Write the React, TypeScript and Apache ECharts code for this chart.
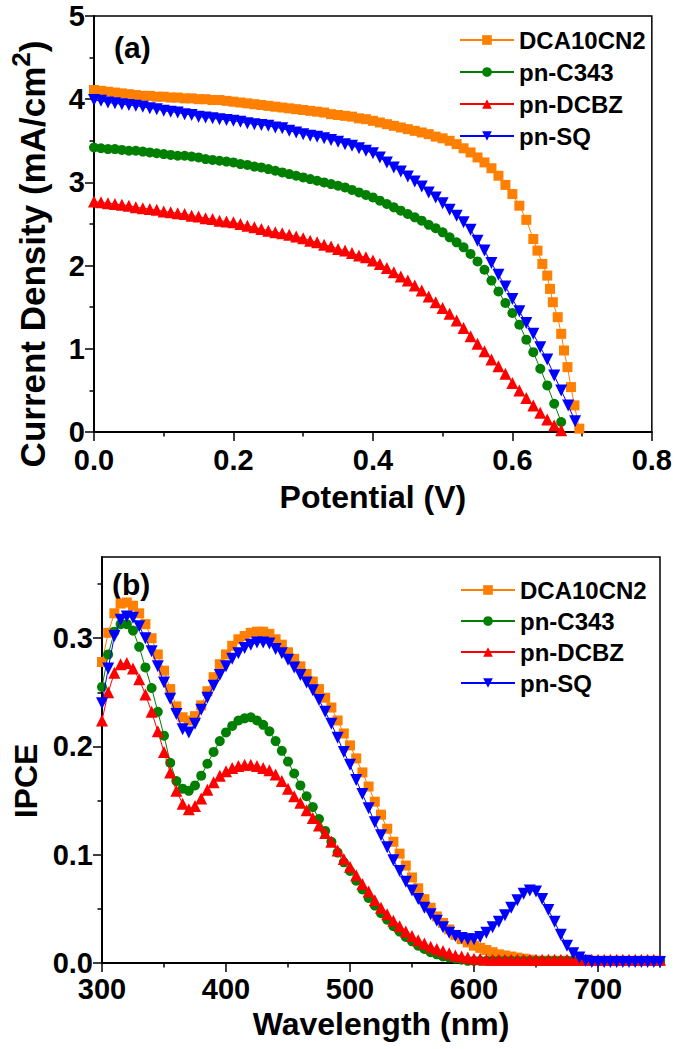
import React, { useEffect, useRef } from 'react';
import * as echarts from 'echarts';

const FONT = "'Liberation Sans', Arial, Helvetica, sans-serif";

const seriesNames = ['DCA10CN2', 'pn-C343', 'pn-DCBZ', 'pn-SQ'];
const seriesColors = ['#FF7F00', '#007F00', '#FF0000', '#0000FF'];
const seriesSymbols = ['rect', 'circle', 'triangle', 'triangle'];
const seriesRotate = [0, 0, 0, 180];
const seriesSymbolSize = [10, 10, 12, 12];

// ---- (a) J-V curves ----
const potential = [
  0.00, 0.01, 0.02, 0.03, 0.04, 0.05, 0.06, 0.07, 0.08, 0.09,
  0.10, 0.11, 0.12, 0.13, 0.14, 0.15, 0.16, 0.17, 0.18, 0.19,
  0.20, 0.21, 0.22, 0.23, 0.24, 0.25, 0.26, 0.27, 0.28, 0.29,
  0.30, 0.31, 0.32, 0.33, 0.34, 0.35, 0.36, 0.37, 0.38, 0.39,
  0.40, 0.41, 0.42, 0.43, 0.44, 0.45, 0.46, 0.47, 0.48, 0.49,
  0.50, 0.51, 0.52, 0.53, 0.54, 0.55, 0.56, 0.57, 0.58, 0.59,
  0.60, 0.61, 0.62, 0.63, 0.64, 0.65, 0.66, 0.67, 0.68, 0.69,
];

const dcaCurrent = [
  4.11, 4.10, 4.09, 4.08, 4.07, 4.06, 4.05, 4.04, 4.04, 4.03,
  4.03, 4.02, 4.02, 4.01, 4.01, 4.00, 4.00, 3.99, 3.99, 3.98,
  3.97, 3.96, 3.95, 3.94, 3.93, 3.92, 3.91, 3.90, 3.89, 3.88,
  3.87, 3.86, 3.85, 3.84, 3.82, 3.81, 3.80, 3.79, 3.77, 3.76,
  3.74, 3.72, 3.70, 3.68, 3.66, 3.64, 3.62, 3.60, 3.58, 3.55,
  3.53, 3.50, 3.46, 3.41, 3.36, 3.30, 3.24, 3.17, 3.08, 2.97,
  2.86, 2.72, 2.55, 2.32,
];
const dcaTailPotential = [0.636, 0.643, 0.650, 0.654, 0.658, 0.665, 0.670, 0.674, 0.679, 0.684, 0.689, 0.696];
const dcaTailCurrent = [2.18, 2.02, 1.88, 1.72, 1.56, 1.38, 1.18, 0.98, 0.78, 0.54, 0.32, 0.04];

const c343Current = [
  3.42, 3.41, 3.40, 3.40, 3.39, 3.38, 3.38, 3.37, 3.36, 3.35,
  3.34, 3.33, 3.32, 3.32, 3.31, 3.30, 3.28, 3.27, 3.26, 3.25,
  3.24, 3.22, 3.21, 3.19, 3.18, 3.16, 3.14, 3.12, 3.10, 3.08,
  3.06, 3.04, 3.02, 3.00, 2.98, 2.96, 2.94, 2.91, 2.88, 2.85,
  2.82, 2.78, 2.74, 2.70, 2.66, 2.62, 2.58, 2.54, 2.49, 2.45,
  2.40, 2.34, 2.28, 2.22, 2.14, 2.05, 1.95, 1.82, 1.69, 1.55,
  1.43, 1.29, 1.11, 0.96, 0.76, 0.56, 0.34, 0.12,
];

const dcbzCurrent = [
  2.77, 2.76, 2.75, 2.74, 2.73, 2.72, 2.70, 2.69, 2.68, 2.67,
  2.65, 2.64, 2.63, 2.62, 2.60, 2.59, 2.57, 2.56, 2.54, 2.53,
  2.52, 2.50, 2.48, 2.46, 2.44, 2.42, 2.40, 2.39, 2.37, 2.35,
  2.33, 2.30, 2.28, 2.25, 2.23, 2.20, 2.18, 2.15, 2.12, 2.10,
  2.06, 2.02, 1.97, 1.92, 1.87, 1.82, 1.76, 1.70, 1.63, 1.56,
  1.49, 1.42, 1.34, 1.25, 1.15, 1.06, 0.97, 0.87, 0.79, 0.70,
  0.59, 0.50, 0.41, 0.32, 0.23, 0.15, 0.08, 0.02,
];

const sqCurrent = [
  3.99, 3.98, 3.96, 3.95, 3.94, 3.93, 3.92, 3.91, 3.89, 3.88,
  3.86, 3.85, 3.84, 3.82, 3.81, 3.79, 3.78, 3.77, 3.76, 3.75,
  3.74, 3.73, 3.71, 3.70, 3.69, 3.68, 3.66, 3.65, 3.62, 3.60,
  3.58, 3.56, 3.55, 3.53, 3.51, 3.49, 3.46, 3.44, 3.41, 3.38,
  3.35, 3.30, 3.24, 3.18, 3.13, 3.07, 3.01, 2.95, 2.88, 2.82,
  2.75, 2.67, 2.60, 2.52, 2.43, 2.30, 2.18, 2.03, 1.89, 1.75,
  1.60, 1.45, 1.31, 1.18, 1.02, 0.87, 0.68, 0.50, 0.32, 0.13,
];

// ---- (b) IPCE spectra ----
const wavelength = [
  300, 305, 310, 315, 320, 325, 330, 335, 340, 345,
  350, 355, 360, 365, 370, 375, 380, 385, 390, 395,
  400, 405, 410, 415, 420, 425, 430, 435, 440, 445,
  450, 455, 460, 465, 470, 475, 480, 485, 490, 495,
  500, 505, 510, 515, 520, 525, 530, 535, 540, 545,
  550, 555, 560, 565, 570, 575, 580, 585, 590, 595,
  600, 605, 610, 615, 620, 625, 630, 635, 640, 645,
  650, 655, 660, 665, 670, 675, 680, 685, 690, 695,
  700, 705, 710, 715, 720, 725, 730, 735, 740, 745, 750,
];

const dcaIpce = [
  0.278, 0.305, 0.323, 0.332, 0.333, 0.330, 0.323, 0.313, 0.300, 0.285,
  0.270, 0.253, 0.237, 0.227, 0.224, 0.228, 0.238, 0.251, 0.264, 0.276,
  0.285, 0.293, 0.299, 0.302, 0.305, 0.306, 0.306, 0.304, 0.299, 0.294,
  0.287, 0.281, 0.274, 0.267, 0.260, 0.253, 0.245, 0.236, 0.224, 0.212,
  0.201, 0.189, 0.176, 0.163, 0.149, 0.137, 0.124, 0.112, 0.101, 0.090,
  0.079, 0.069, 0.059, 0.051, 0.043, 0.037, 0.031, 0.026, 0.022, 0.019,
  0.016, 0.014, 0.012, 0.010, 0.008, 0.007, 0.006, 0.005, 0.004, 0.003,
  0.002, 0.002, 0.002, 0.002, 0.002, 0.002, 0.002, 0.002, 0.002, 0.002,
  0.002, 0.002, 0.002, 0.002, 0.002, 0.002, 0.002, 0.002, 0.002, 0.002, 0.002,
];

const c343Ipce = [
  0.255, 0.285, 0.306, 0.313, 0.313, 0.307, 0.292, 0.273, 0.254, 0.232,
  0.210, 0.185, 0.168, 0.161, 0.159, 0.164, 0.173, 0.184, 0.195, 0.205,
  0.213, 0.219, 0.224, 0.226, 0.227, 0.224, 0.220, 0.214, 0.205, 0.196,
  0.186, 0.175, 0.164, 0.154, 0.144, 0.133, 0.122, 0.112, 0.102, 0.093,
  0.085, 0.076, 0.068, 0.060, 0.053, 0.046, 0.040, 0.034, 0.029, 0.024,
  0.020, 0.016, 0.013, 0.010, 0.008, 0.006, 0.005, 0.004, 0.003, 0.002,
  0.002, 0.002, 0.002, 0.002, 0.002, 0.002, 0.002, 0.002, 0.002, 0.002,
  0.002, 0.002, 0.002, 0.002, 0.002, 0.002, 0.002, 0.002, 0.002, 0.002,
  0.002, 0.002, 0.002, 0.002, 0.002, 0.002, 0.002, 0.002, 0.002, 0.002, 0.002,
];

const dcbzIpce = [
  0.224, 0.250, 0.268, 0.276, 0.277, 0.272, 0.262, 0.248, 0.232, 0.214,
  0.195, 0.176, 0.159, 0.147, 0.142, 0.145, 0.152, 0.160, 0.167, 0.173,
  0.177, 0.180, 0.182, 0.183, 0.183, 0.182, 0.180, 0.178, 0.174, 0.168,
  0.161, 0.154, 0.148, 0.141, 0.134, 0.127, 0.120, 0.112, 0.104, 0.096,
  0.089, 0.081, 0.073, 0.066, 0.058, 0.051, 0.045, 0.039, 0.034, 0.029,
  0.025, 0.021, 0.018, 0.015, 0.013, 0.011, 0.009, 0.007, 0.006, 0.005,
  0.004, 0.004, 0.003, 0.003, 0.003, 0.003, 0.003, 0.003, 0.003, 0.003,
  0.003, 0.003, 0.003, 0.003, 0.003, 0.003, 0.003, 0.003, 0.003, 0.003,
  0.003, 0.003, 0.003, 0.003, 0.003, 0.003, 0.003, 0.003, 0.003, 0.003, 0.003,
];

const sqIpce = [
  0.240, 0.272, 0.302, 0.317, 0.320, 0.319, 0.311, 0.300, 0.288, 0.274,
  0.259, 0.244, 0.230, 0.216, 0.213, 0.221, 0.234, 0.245, 0.256, 0.266,
  0.274, 0.281, 0.286, 0.291, 0.294, 0.296, 0.296, 0.295, 0.290, 0.286,
  0.280, 0.273, 0.266, 0.259, 0.252, 0.243, 0.232, 0.221, 0.208, 0.195,
  0.183, 0.169, 0.156, 0.143, 0.130, 0.118, 0.107, 0.095, 0.085, 0.075,
  0.067, 0.059, 0.051, 0.045, 0.039, 0.033, 0.028, 0.025, 0.023, 0.022,
  0.022, 0.024, 0.028, 0.033, 0.038, 0.044, 0.051, 0.058, 0.064, 0.067,
  0.066, 0.059, 0.049, 0.038, 0.026, 0.016, 0.009, 0.005, 0.002, 0.001,
  0.001, 0.001, 0.001, 0.001, 0.001, 0.001, 0.001, 0.001, 0.001, 0.001, 0.001,
];

const jvTicksY = [0, 1, 2, 3, 4, 5];
const ipceMajorY = [0, 0.1, 0.2, 0.3];
const ipceMinorY = [0.05, 0.15, 0.25, 0.35];
const ipceMajorX = [300, 400, 500, 600, 700];
const ipceMinorX = [350, 450, 550, 650, 750];

const zip = (xs: number[], ys: number[]) => ys.map((y, i) => [xs[i], y]);

export default function App() {
  const ref = useRef<HTMLDivElement>(null);

  useEffect(() => {
    document.body.style.margin = '0';
    if (!ref.current) return;
    const chart = echarts.init(ref.current, undefined, { renderer: 'svg' });

    const black = '#000';
    const axisLine = { show: true, onZero: false, lineStyle: { color: black, width: 2 } };
    const tickStyle = { color: black, width: 1.5 };
    const tickLabel = { fontSize: 29, fontWeight: 'bold', color: black, fontFamily: FONT };
    const nameStyle = { fontSize: 32, fontWeight: 'bold', color: black, fontFamily: FONT };

    const jvData = [
      zip(potential, dcaCurrent).concat(zip(dcaTailPotential, dcaTailCurrent)),
      zip(potential, c343Current),
      zip(potential, dcbzCurrent),
      zip(potential, sqCurrent),
    ];
    const ipceData = [
      zip(wavelength, dcaIpce),
      zip(wavelength, c343Ipce),
      zip(wavelength, dcbzIpce),
      zip(wavelength, sqIpce),
    ];

    const makeSeries = (idx: number, data: number[][], axisIdx: number) => ({
      type: 'line',
      name: seriesNames[idx],
      data,
      xAxisIndex: axisIdx,
      yAxisIndex: axisIdx,
      symbol: seriesSymbols[idx],
      symbolSize: seriesSymbolSize[idx],
      symbolRotate: seriesRotate[idx],
      showSymbol: true,
      showAllSymbol: true,
      clip: true,
      itemStyle: { color: seriesColors[idx] },
      lineStyle: { color: seriesColors[idx], width: 1 },
      emphasis: { disabled: true },
      z: 2 + idx,
    });

    const legendBase = {
      data: seriesNames,
      orient: 'vertical',
      itemWidth: 54,
      itemHeight: 12,
      selectedMode: false,
      textStyle: { fontSize: 24, fontWeight: 'bold', color: black, fontFamily: FONT, lineHeight: 24 },
    };

    const option: any = {
      animation: false,
      backgroundColor: '#fff',
      textStyle: { fontFamily: FONT },
      grid: [
        { left: 93, top: 16, width: 563, height: 416, show: true, borderColor: black, borderWidth: 1.5 },
        { left: 102, top: 557, width: 558, height: 406, show: true, borderColor: black, borderWidth: 1.5 },
      ],
      legend: [
        { ...legendBase, left: 454, top: 23, itemGap: 8 },
        { ...legendBase, left: 455, top: 573, itemGap: 7 },
      ],
      xAxis: [
        {
          type: 'value', gridIndex: 0, min: 0, max: 0.8, interval: 0.2,
          name: 'Potential (V)', nameLocation: 'middle', nameGap: 49, nameTextStyle: nameStyle,
          axisLine, axisTick: { show: true, length: 9, lineStyle: tickStyle },
          minorTick: { show: true, splitNumber: 2, length: 4.5, lineStyle: tickStyle },
          axisLabel: { ...tickLabel, margin: 13, formatter: (v: number) => v.toFixed(1) },
          splitLine: { show: false }, minorSplitLine: { show: false },
        },
        {
          type: 'value', gridIndex: 1, min: 300, max: 750,
          name: 'Wavelength (nm)', nameLocation: 'middle', nameGap: 45, nameTextStyle: nameStyle,
          axisLine,
          axisTick: { show: true, length: 9, lineStyle: tickStyle, customValues: ipceMajorX },
          axisLabel: { ...tickLabel, margin: 11, customValues: ipceMajorX, formatter: (v: number) => String(Math.round(v)) },
          splitLine: { show: false },
        },
        {
          type: 'value', gridIndex: 1, min: 300, max: 750, position: 'bottom', offset: 0,
          axisLine: { show: false },
          axisTick: { show: true, length: 4.5, lineStyle: tickStyle, customValues: ipceMinorX },
          axisLabel: { show: false },
          splitLine: { show: false },
        },
      ],
      yAxis: [
        {
          type: 'value', gridIndex: 0, min: 0, max: 5, interval: 1,
          name: '{t|Current Density (mA/cm}{s|2}{t|)}', nameLocation: 'middle', nameGap: 38,
          nameTextStyle: {
            fontSize: 35, fontWeight: 'bold', color: black, fontFamily: FONT,
            padding: [0, 60, 0, 0],
            rich: {
              t: { fontSize: 35, fontWeight: 'bold', color: black, fontFamily: FONT, lineHeight: 48, verticalAlign: 'middle' },
              s: { fontSize: 26, fontWeight: 'bold', color: black, fontFamily: FONT, lineHeight: 26, verticalAlign: 'top' },
            },
          },
          axisLine, axisTick: { show: true, length: 9, lineStyle: tickStyle },
          minorTick: { show: true, splitNumber: 2, length: 4.5, lineStyle: tickStyle },
          axisLabel: { ...tickLabel, margin: 9, customValues: jvTicksY },
          splitLine: { show: false }, minorSplitLine: { show: false },
        },
        {
          type: 'value', gridIndex: 1, min: 0, max: 0.375,
          name: 'IPCE', nameLocation: 'middle', nameGap: 58,
          nameTextStyle: { ...nameStyle, padding: [0, 42, 0, 0] },
          axisLine,
          axisTick: { show: true, length: 9, lineStyle: tickStyle, customValues: ipceMajorY },
          axisLabel: { ...tickLabel, margin: 9, customValues: ipceMajorY, formatter: (v: number) => v.toFixed(1) },
          splitLine: { show: false },
        },
        {
          type: 'value', gridIndex: 1, min: 0, max: 0.375, position: 'left', offset: 0,
          axisLine: { show: false },
          axisTick: { show: true, length: 4.5, lineStyle: tickStyle, customValues: ipceMinorY },
          axisLabel: { show: false },
          splitLine: { show: false },
        },
      ],
      graphic: [
        { type: 'text', left: 114, top: 32, style: { text: '(a)', fontSize: 30, fontWeight: 'bold', fontFamily: FONT, fill: black } },
        { type: 'text', left: 112, top: 569, style: { text: '(b)', fontSize: 30, fontWeight: 'bold', fontFamily: FONT, fill: black } },
      ],
      series: [
        ...jvData.map((d, i) => makeSeries(i, d, 0)),
        ...ipceData.map((d, i) => makeSeries(i, d, 1)),
      ],
    };

    chart.setOption(option);
    return () => chart.dispose();
  }, []);

  return <div ref={ref} style={{ width: 675, height: 1049 }} />;
}
